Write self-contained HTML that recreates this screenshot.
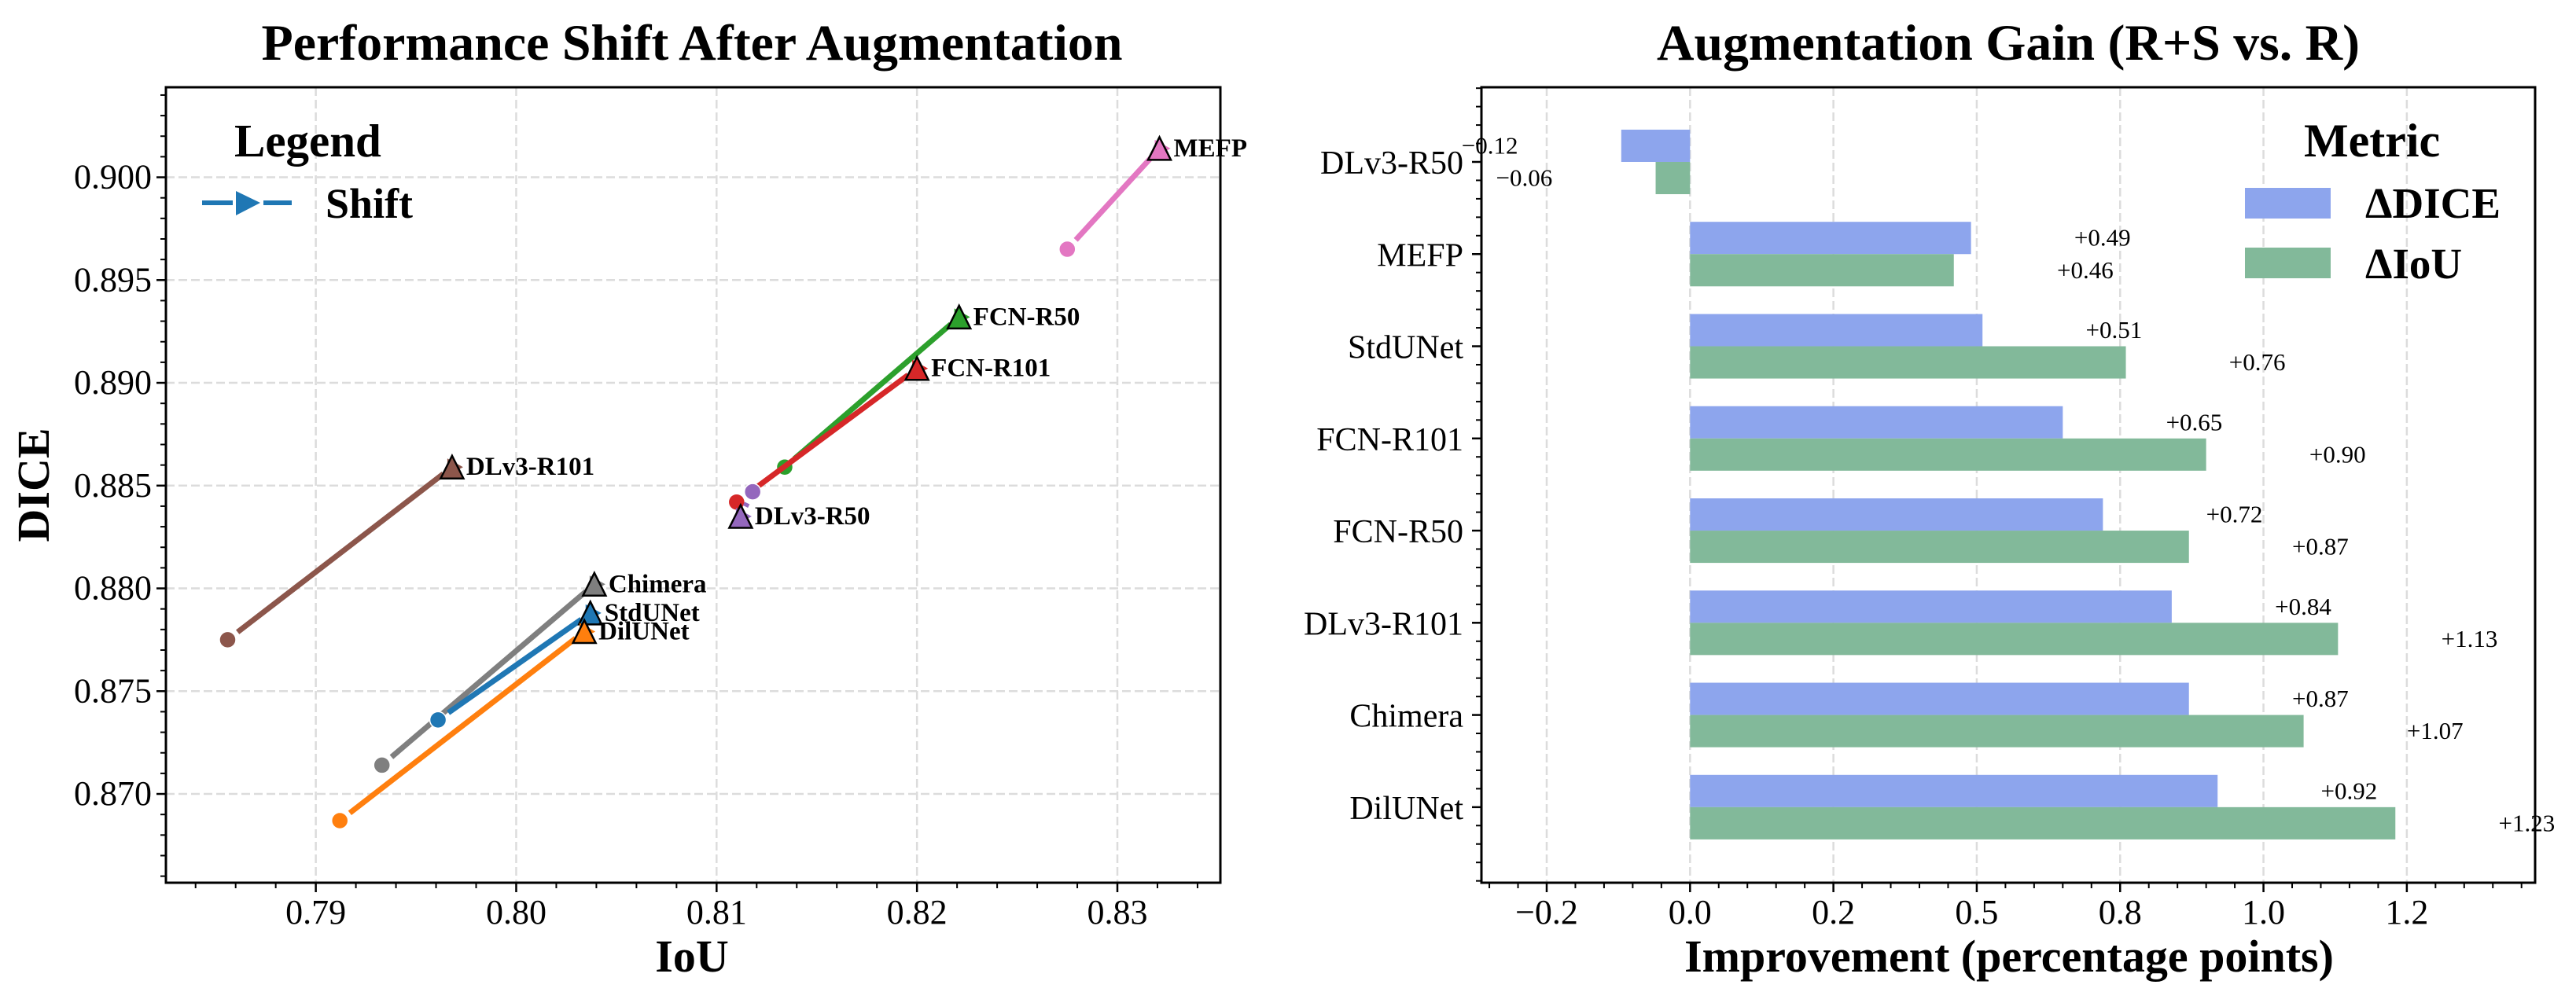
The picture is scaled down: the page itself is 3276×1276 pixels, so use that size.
<!DOCTYPE html>
<html><head><meta charset="utf-8"><style>
html,body{margin:0;padding:0;background:#fff;}
svg{display:block;font-family:"Liberation Serif","DejaVu Serif",serif;}
</style></head><body>
<svg id="fig" width="3276" height="1276" viewBox="0 0 3276 1276" xmlns="http://www.w3.org/2000/svg">
<rect width="3276" height="1276" fill="#fff"/>
<g id="left"></g>
<g id="right"></g>
</svg>
<script>
// ---------- Left chart data ----------
const models = ["MEFP","FCN-R50","FCN-R101","DLv3-R50","DLv3-R101","Chimera","StdUNet","DilUNet"];
const iouBefore  = [0.8275,0.8134,0.8110,0.8118,0.7856,0.7933,0.7961,0.7912];
const diceBefore = [0.8965,0.8859,0.8842,0.8847,0.8775,0.8714,0.8736,0.8687];
const iouAfter   = [0.8321,0.8221,0.8200,0.8112,0.7968,0.8039,0.8037,0.8034];
const diceAfter  = [0.9014,0.8932,0.8907,0.8835,0.8859,0.8802,0.8788,0.8779];
const modelColors = ["#e377c2","#2ca02c","#d62728","#9467bd","#8c564b","#7f7f7f","#1f77b4","#ff7f0e"];
const xTicksL = [0.79,0.80,0.81,0.82,0.83];
const xTickLabelsL = ["0.79","0.80","0.81","0.82","0.83"];
const yTicksL = [0.870,0.875,0.880,0.885,0.890,0.895,0.900];
const yTickLabelsL = ["0.870","0.875","0.880","0.885","0.890","0.895","0.900"];

// ---------- Right chart data ----------
const cats = ["DLv3-R50","MEFP","StdUNet","FCN-R101","FCN-R50","DLv3-R101","Chimera","DilUNet"];
const dDice = [-0.12,0.49,0.51,0.65,0.72,0.84,0.87,0.92];
const dIoU  = [-0.06,0.46,0.76,0.90,0.87,1.13,1.07,1.23];
const xTicksR = [-0.25,0,0.25,0.5,0.75,1.0,1.25];
const xTickLabelsR = ["\u22120.2","0.0","0.2","0.5","0.8","1.0","1.2"];

const NS="http://www.w3.org/2000/svg";
function mk(parent,tag,attrs,text){const e=document.createElementNS(NS,tag);for(const k in attrs)e.setAttribute(k,attrs[k]);if(text!==undefined)e.textContent=text;parent.appendChild(e);return e;}

// ===== LEFT =====
const L=document.getElementById('left');
const LA={l:211,r:1552,t:111,b:1123};
const xminL=0.78252,xmaxL=0.83514,yminL=0.86568,ymaxL=0.90438;
const sxL=v=>LA.l+(v-xminL)/(xmaxL-xminL)*(LA.r-LA.l);
const syL=v=>LA.b-(v-yminL)/(ymaxL-yminL)*(LA.b-LA.t);

let t=mk(L,'text',{x:880,y:76,'text-anchor':'middle','font-size':65,'font-weight':'bold',textLength:1095,lengthAdjust:'spacingAndGlyphs'},'Performance Shift After Augmentation');


// grid
xTicksL.forEach(v=>{const g=mk(L,'line',{x1:sxL(v),x2:sxL(v),y1:LA.t,y2:LA.b,stroke:'#dcdcdc','stroke-width':2.5,'stroke-dasharray':'11,5'});
});
yTicksL.forEach(v=>{const g=mk(L,'line',{x1:LA.l,x2:LA.r,y1:syL(v),y2:syL(v),stroke:'#dcdcdc','stroke-width':2.5,'stroke-dasharray':'11,5'});
});

// arrows
models.forEach((m,i)=>{
  const x0=sxL(iouBefore[i]),y0=syL(diceBefore[i]),x1=sxL(iouAfter[i]),y1=syL(diceAfter[i]);
  const dx=x1-x0,dy=y1-y0,len=Math.hypot(dx,dy),ux=dx/len,uy=dy/len;
  const g=mk(L,'g',{});
  
  
  if(len>30){
    mk(g,'line',{x1:x0+ux*16,y1:y0+uy*16,x2:x1-ux*14,y2:y1-uy*14,stroke:modelColors[i],'stroke-width':7});
  }
  mk(g,'polygon',{points:`${x1+14},${y1} ${x1-6},${y1-11} ${x1-6},${y1+11}`,fill:modelColors[i]});
  mk(g,'circle',{cx:x0,cy:y0,r:10.5,fill:modelColors[i],stroke:'#fff','stroke-width':1.5});
  mk(g,'polygon',{points:`${x1},${y1-14.5} ${x1-14.5},${y1+14.5} ${x1+14.5},${y1+14.5}`,fill:modelColors[i],stroke:'#000','stroke-width':2.5,'stroke-linejoin':'miter'});
  const lb=mk(L,'text',{x:x1+18,y:y1+10,'font-size':33,'font-weight':'bold'},m);
  
  
});

// spines
mk(L,'rect',{x:LA.l,y:LA.t,width:LA.r-LA.l,height:LA.b-LA.t,fill:'none',stroke:'#000','stroke-width':3});
// x ticks
for(let k=0;k<=30;k++){const v=0.784+k*0.002;if(v<xminL||v>xmaxL)continue;const x=sxL(v);
  const major=Math.abs(Math.round(v*100)-v*100)<1e-6;mk(L,'line',{x1:x,x2:x,y1:LA.b,y2:LA.b+(major?12:7),stroke:'#000','stroke-width':major?2.5:2});}
xTicksL.forEach((v,i)=>{const e=mk(L,'text',{x:sxL(v),y:1175,'text-anchor':'middle','font-size':44},xTickLabelsL[i]);
});
for(let k=0;k<=40;k++){const v=0.866+k*0.001;if(v<yminL||v>ymaxL)continue;const y=syL(v);
  const major=Math.abs(Math.round(v*200)-v*200)<1e-6;mk(L,'line',{x1:LA.l,x2:LA.l-(major?12:7),y1:y,y2:y,stroke:'#000','stroke-width':major?2.5:2});}
yTicksL.forEach((v,i)=>{const e=mk(L,'text',{x:193,y:syL(v)+14,'text-anchor':'end','font-size':44},yTickLabelsL[i]);
});
t=mk(L,'text',{x:880,y:1236,'text-anchor':'middle','font-size':58,'font-weight':'bold'},'IoU');

t=mk(L,'text',{x:0,y:0,transform:'translate(62,617) rotate(-90)','text-anchor':'middle','font-size':58,'font-weight':'bold'},'DICE');

// legend
const lg=mk(L,'g',{});

mk(lg,'text',{x:298,y:199,'font-size':59,'font-weight':'bold'},'Legend');
mk(lg,'line',{x1:257,x2:296,y1:258,y2:258,stroke:'#1f77b4','stroke-width':6});
mk(lg,'line',{x1:335,x2:371,y1:258,y2:258,stroke:'#1f77b4','stroke-width':6});
mk(lg,'polygon',{points:'300,243 331,258 300,274',fill:'#1f77b4'});
mk(lg,'text',{x:414,y:277,'font-size':54,'font-weight':'bold'},'Shift');

// ===== RIGHT =====
const R=document.getElementById('right');
const RA={l:1884,r:3224,t:111,b:1123};
const xminR=-0.3638,xmaxR=1.4737,yminR=-0.81,ymaxR=7.82;
const sxR=v=>RA.l+(v-xminR)/(xmaxR-xminR)*(RA.r-RA.l);
const syR=v=>RA.t+(v-yminR)/(ymaxR-yminR)*(RA.b-RA.t);
const bh=0.35;
t=mk(R,'text',{x:2554,y:76,'text-anchor':'middle','font-size':65,'font-weight':'bold',textLength:894,lengthAdjust:'spacingAndGlyphs'},'Augmentation Gain (R+S vs. R)');

xTicksR.forEach(v=>{const g=mk(R,'line',{x1:sxR(v),x2:sxR(v),y1:RA.t,y2:RA.b,stroke:'#dcdcdc','stroke-width':2.5,'stroke-dasharray':'11,5'});
});
cats.forEach((c,i)=>{
  const x0=sxR(0);
  let xa=sxR(dDice[i]);
  const b1=mk(R,'rect',{x:Math.min(x0,xa),y:syR(i-bh),width:Math.abs(xa-x0),height:syR(i)-syR(i-bh),fill:'#8da5ed'});
  
  let xb=sxR(dIoU[i]);
  const b2=mk(R,'rect',{x:Math.min(x0,xb),y:syR(i),width:Math.abs(xb-x0),height:syR(i+bh)-syR(i),fill:'#82b99a'});
  
  [[dDice[i],i-bh/2],[dIoU[i],i+bh/2]].forEach(([v,yy])=>{
    const neg=v<0;const txt=(neg?'\u2212':'+')+Math.abs(v).toFixed(2);
    const e=mk(R,'text',{x:sxR(neg?v-0.18:v+0.18),y:syR(yy)+10,'text-anchor':neg?'end':'start','font-size':31},txt);
    
  });
  const cl=mk(R,'text',{x:1861,y:syR(i)+15,'text-anchor':'end','font-size':42},c);
  
});
mk(R,'rect',{x:RA.l,y:RA.t,width:RA.r-RA.l,height:RA.b-RA.t,fill:'none',stroke:'#000','stroke-width':3});
for(let k=-8;k<=30;k++){const v=k*0.05;if(v<xminR||v>xmaxR)continue;const x=sxR(v);const major=k%5===0;
  mk(R,'line',{x1:x,x2:x,y1:RA.b,y2:RA.b+(major?12:7),stroke:'#000','stroke-width':major?2.5:2});}
xTicksR.forEach((v,i)=>{const e=mk(R,'text',{x:sxR(v),y:1175,'text-anchor':'middle','font-size':44},xTickLabelsR[i]);
});
for(let k=-4;k<=39;k++){const v=k*0.2;if(v<yminR||v>ymaxR)continue;const y=syR(v);const major=k%5===0;
  mk(R,'line',{x1:RA.l,x2:RA.l-(major?12:7),y1:y,y2:y,stroke:'#000','stroke-width':major?2.5:2});}
t=mk(R,'text',{x:2555,y:1236,'text-anchor':'middle','font-size':58,'font-weight':'bold'},'Improvement (percentage points)');

const lg2=mk(R,'g',{});

mk(lg2,'text',{x:2930,y:199,'font-size':60,'font-weight':'bold'},'Metric');
mk(lg2,'rect',{x:2855,y:239,width:109,height:39,fill:'#8da5ed'});
mk(lg2,'text',{x:3008,y:277,'font-size':55,'font-weight':'bold'},'\u0394DICE');
mk(lg2,'rect',{x:2855,y:315,width:109,height:39,fill:'#82b99a'});
mk(lg2,'text',{x:3008,y:354,'font-size':55,'font-weight':'bold'},'\u0394IoU');
</script>
</body></html>
